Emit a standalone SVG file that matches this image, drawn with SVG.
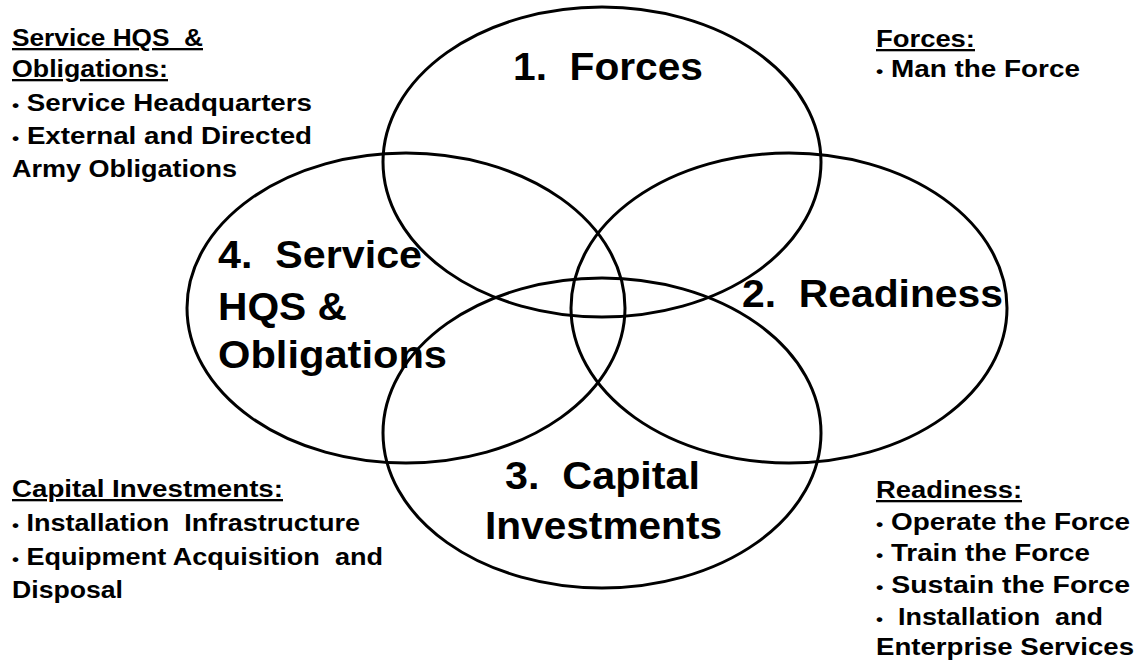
<svg xmlns="http://www.w3.org/2000/svg" width="1135" height="667" viewBox="0 0 1135 667" xml:space="preserve">
<style>
.ell{fill:none;stroke:#000;stroke-width:3}
text{white-space:pre}
.big{font-family:"Liberation Sans",Arial,sans-serif;font-weight:bold;font-size:38px;fill:#000}
.sm{font-family:"Liberation Sans",Arial,sans-serif;font-weight:bold;font-size:23px;fill:#000}
.u{text-decoration:underline}
.b{font-size:17px}
</style>
<rect width="1135" height="667" fill="#fff"/>
<g id="connectors"/>
<g id="forces">
<ellipse class="ell" cx="602" cy="162" rx="219" ry="155"/>
<text class="big" x="513" y="80" textLength="190" lengthAdjust="spacingAndGlyphs">1.  Forces</text>
</g>
<g id="readiness">
<ellipse class="ell" cx="789" cy="308" rx="218" ry="155"/>
<text class="big" x="742" y="307" textLength="261" lengthAdjust="spacingAndGlyphs">2.  Readiness</text>
</g>
<g id="capital">
<ellipse class="ell" cx="602" cy="433" rx="219" ry="155"/>
<text class="big" x="505" y="489" textLength="195" lengthAdjust="spacingAndGlyphs">3.  Capital</text>
<text class="big" x="485" y="539" textLength="237" lengthAdjust="spacingAndGlyphs">Investments</text>
</g>
<g id="service">
<ellipse class="ell" cx="406" cy="308" rx="219" ry="155"/>
<text class="big" x="218" y="268" textLength="204" lengthAdjust="spacingAndGlyphs">4.  Service</text>
<text class="big" x="218" y="320" textLength="129" lengthAdjust="spacingAndGlyphs">HQS &amp;</text>
<text class="big" x="218" y="368" textLength="229" lengthAdjust="spacingAndGlyphs">Obligations</text>
</g>
<g id="note-service">
<text class="sm u" x="12" y="46" textLength="191" lengthAdjust="spacingAndGlyphs">Service HQS  &amp;</text>
<text class="sm u" x="12" y="77" textLength="156" lengthAdjust="spacingAndGlyphs">Obligations:</text>
<text class="sm" x="12" y="111" textLength="300" lengthAdjust="spacingAndGlyphs"><tspan class="b">•</tspan> Service Headquarters</text>
<text class="sm" x="12" y="144" textLength="300" lengthAdjust="spacingAndGlyphs"><tspan class="b">•</tspan> External and Directed</text>
<text class="sm" x="12" y="177" textLength="225" lengthAdjust="spacingAndGlyphs">Army Obligations</text>
</g>
<g id="note-forces">
<text class="sm u" x="876" y="47" textLength="99" lengthAdjust="spacingAndGlyphs">Forces:</text>
<text class="sm" x="876" y="77" textLength="204" lengthAdjust="spacingAndGlyphs"><tspan class="b">•</tspan> Man the Force</text>
</g>
<g id="note-capital">
<text class="sm u" x="12" y="497" textLength="271" lengthAdjust="spacingAndGlyphs">Capital Investments:</text>
<text class="sm" x="12" y="531" textLength="348" lengthAdjust="spacingAndGlyphs"><tspan class="b">•</tspan> Installation  Infrastructure</text>
<text class="sm" x="12" y="565" textLength="371" lengthAdjust="spacingAndGlyphs"><tspan class="b">•</tspan> Equipment Acquisition  and</text>
<text class="sm" x="12" y="598" textLength="111" lengthAdjust="spacingAndGlyphs">Disposal</text>
</g>
<g id="note-readiness">
<text class="sm u" x="876" y="498" textLength="146" lengthAdjust="spacingAndGlyphs">Readiness:</text>
<text class="sm" x="876" y="530" textLength="254" lengthAdjust="spacingAndGlyphs"><tspan class="b">•</tspan> Operate the Force</text>
<text class="sm" x="876" y="561" textLength="214" lengthAdjust="spacingAndGlyphs"><tspan class="b">•</tspan> Train the Force</text>
<text class="sm" x="876" y="593" textLength="254" lengthAdjust="spacingAndGlyphs"><tspan class="b">•</tspan> Sustain the Force</text>
<text class="sm" x="876" y="625" textLength="227" lengthAdjust="spacingAndGlyphs"><tspan class="b">•</tspan>  Installation  and</text>
<text class="sm" x="876" y="655" textLength="258" lengthAdjust="spacingAndGlyphs">Enterprise Services</text>
</g>
</svg>
